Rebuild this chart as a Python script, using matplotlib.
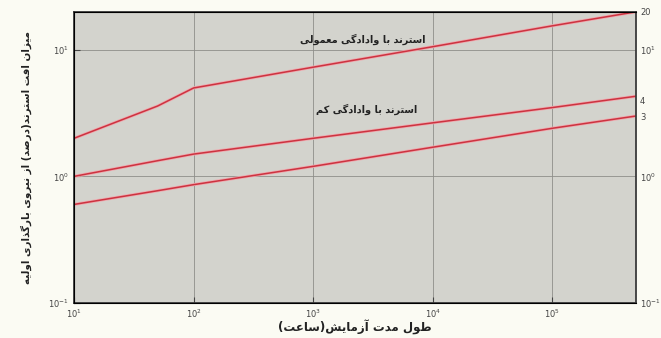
import matplotlib
matplotlib.use("Agg")
import matplotlib.pyplot as plt
from matplotlib.ticker import FixedLocator, NullLocator

# test duration (hours) and relaxation loss (% of initial load)
hours = [10, 50, 100, 1000, 10000, 100000, 500000]
normal_relax = [2.0, 3.6, 5.0, 7.3, 10.6, 15.5, 20.0]
low_relax = [1.0, 1.33, 1.5, 2.0, 2.65, 3.5, 4.3]
low_relax_b = [0.6, 0.77, 0.86, 1.2, 1.7, 2.4, 3.0]

x_ticks = [1e1, 1e2, 1e3, 1e4, 1e5]
x_labels = ["$10^{1}$", "$10^{2}$", "$10^{3}$", "$10^{4}$", "$10^{5}$"]
y_ticks = [0.1, 1, 10]
y_labels = ["$10^{-1}$", "$10^{0}$", "$10^{1}$"]
r_ticks = [0.1, 1, 3, 4, 10, 20]
r_labels = ["$10^{-1}$", "$10^{0}$", "3", "4", "$10^{1}$", "20"]

label_normal = "استرند با وادادگی معمولی"
label_low = "استرند با وادادگی کم"
x_title = "طول مدت آزمایش(ساعت)"
y_title = "میزان افت استرند(درصد) از نیروی بارگذاری اولیه"

# crude persian shaper: (isolated, final, initial, medial)
FORMS = {
    "ا": (0xFE8D, 0xFE8E, None, None), "آ": (0xFE81, 0xFE82, None, None),
    "ب": (0xFE8F, 0xFE90, 0xFE91, 0xFE92), "ت": (0xFE95, 0xFE96, 0xFE97, 0xFE98),
    "د": (0xFEA9, 0xFEAA, None, None), "ذ": (0xFEAB, 0xFEAC, None, None),
    "ر": (0xFEAD, 0xFEAE, None, None), "ز": (0xFEAF, 0xFEB0, None, None),
    "س": (0xFEB1, 0xFEB2, 0xFEB3, 0xFEB4), "ش": (0xFEB5, 0xFEB6, 0xFEB7, 0xFEB8),
    "ص": (0xFEB9, 0xFEBA, 0xFEBB, 0xFEBC), "ط": (0xFEC1, 0xFEC2, 0xFEC3, 0xFEC4),
    "ع": (0xFEC9, 0xFECA, 0xFECB, 0xFECC), "ف": (0xFED1, 0xFED2, 0xFED3, 0xFED4),
    "ل": (0xFEDD, 0xFEDE, 0xFEDF, 0xFEE0), "م": (0xFEE1, 0xFEE2, 0xFEE3, 0xFEE4),
    "ن": (0xFEE5, 0xFEE6, 0xFEE7, 0xFEE8), "ه": (0xFEE9, 0xFEEA, 0xFEEB, 0xFEEC),
    "و": (0xFEED, 0xFEEE, None, None), "ی": (0xFBFC, 0xFBFD, 0xFBFE, 0xFBFF),
    "ک": (0xFB8E, 0xFB8F, 0xFB90, 0xFB91), "گ": (0xFB92, 0xFB93, 0xFB94, 0xFB95),
}


def shape(s):
    out = []
    for i, c in enumerate(s):
        if c not in FORMS:
            out.append(c)
            continue
        prev = s[i - 1] if i > 0 else ""
        nxt = s[i + 1] if i + 1 < len(s) else ""
        jp = prev in FORMS and FORMS[prev][2] is not None
        jn = FORMS[c][2] is not None and nxt in FORMS
        f = FORMS[c]
        if jp and jn:
            g = f[3]
        elif jp:
            g = f[1]
        elif jn:
            g = f[2]
        else:
            g = f[0]
        out.append(chr(g))
    vis = "".join(out)[::-1]
    return vis.translate(str.maketrans("()", ")("))


plt.rcParams["font.family"] = ["DejaVu Sans"]
fig = plt.figure(figsize=(6.61, 3.38), dpi=100, facecolor="#fbfbf3")
ax = fig.add_axes([0.112, 0.104, 0.85, 0.861])
ax.set_facecolor("#d3d3cd")

red = "#cc3340"
for y in (normal_relax, low_relax, low_relax_b):
    ax.plot(hours, y, color="#f0a8ae", lw=2.2, solid_capstyle="butt")
    ax.plot(hours, y, color=red, lw=1.1)

ax.set_xscale("log")
ax.set_yscale("log")
ax.set_xlim(10, 500000)
ax.set_ylim(0.1, 20)
ax.xaxis.set_major_locator(FixedLocator(x_ticks))
ax.set_xticklabels(x_labels)
ax.yaxis.set_major_locator(FixedLocator(y_ticks))
ax.set_yticklabels(y_labels)
ax.xaxis.set_minor_locator(NullLocator())
ax.yaxis.set_minor_locator(NullLocator())
ax.grid(True, color="#8e8e8a", lw=0.6)
ax.tick_params(direction="in", length=4, width=0.8, labelsize=6, colors="#444444")
for sp in ax.spines.values():
    sp.set_color("#3a3a3a")
    sp.set_linewidth(1.3)

ax2 = ax.twinx()
ax2.set_yscale("log")
ax2.set_ylim(0.1, 20)
ax2.yaxis.set_major_locator(FixedLocator(r_ticks))
ax2.set_yticklabels(r_labels)
ax2.yaxis.set_minor_locator(NullLocator())
ax2.tick_params(length=0, labelsize=6, colors="#444444", pad=3)
ax2.spines["right"].set_visible(False)

ax.text(2600, 12.2, shape(label_normal), fontsize=7, fontweight="bold",
        ha="center", va="center", color="#222222")
ax.text(2800, 3.4, shape(label_low), fontsize=7, fontweight="bold",
        ha="center", va="center", color="#222222")
ax.set_xlabel(shape(x_title), fontsize=8.5, fontweight="bold", labelpad=0, color="#222222")
ax.set_ylabel(shape(y_title), fontsize=7.5, fontweight="bold", labelpad=12, color="#222222")

fig.savefig("out.png", dpi=100, facecolor=fig.get_facecolor())
